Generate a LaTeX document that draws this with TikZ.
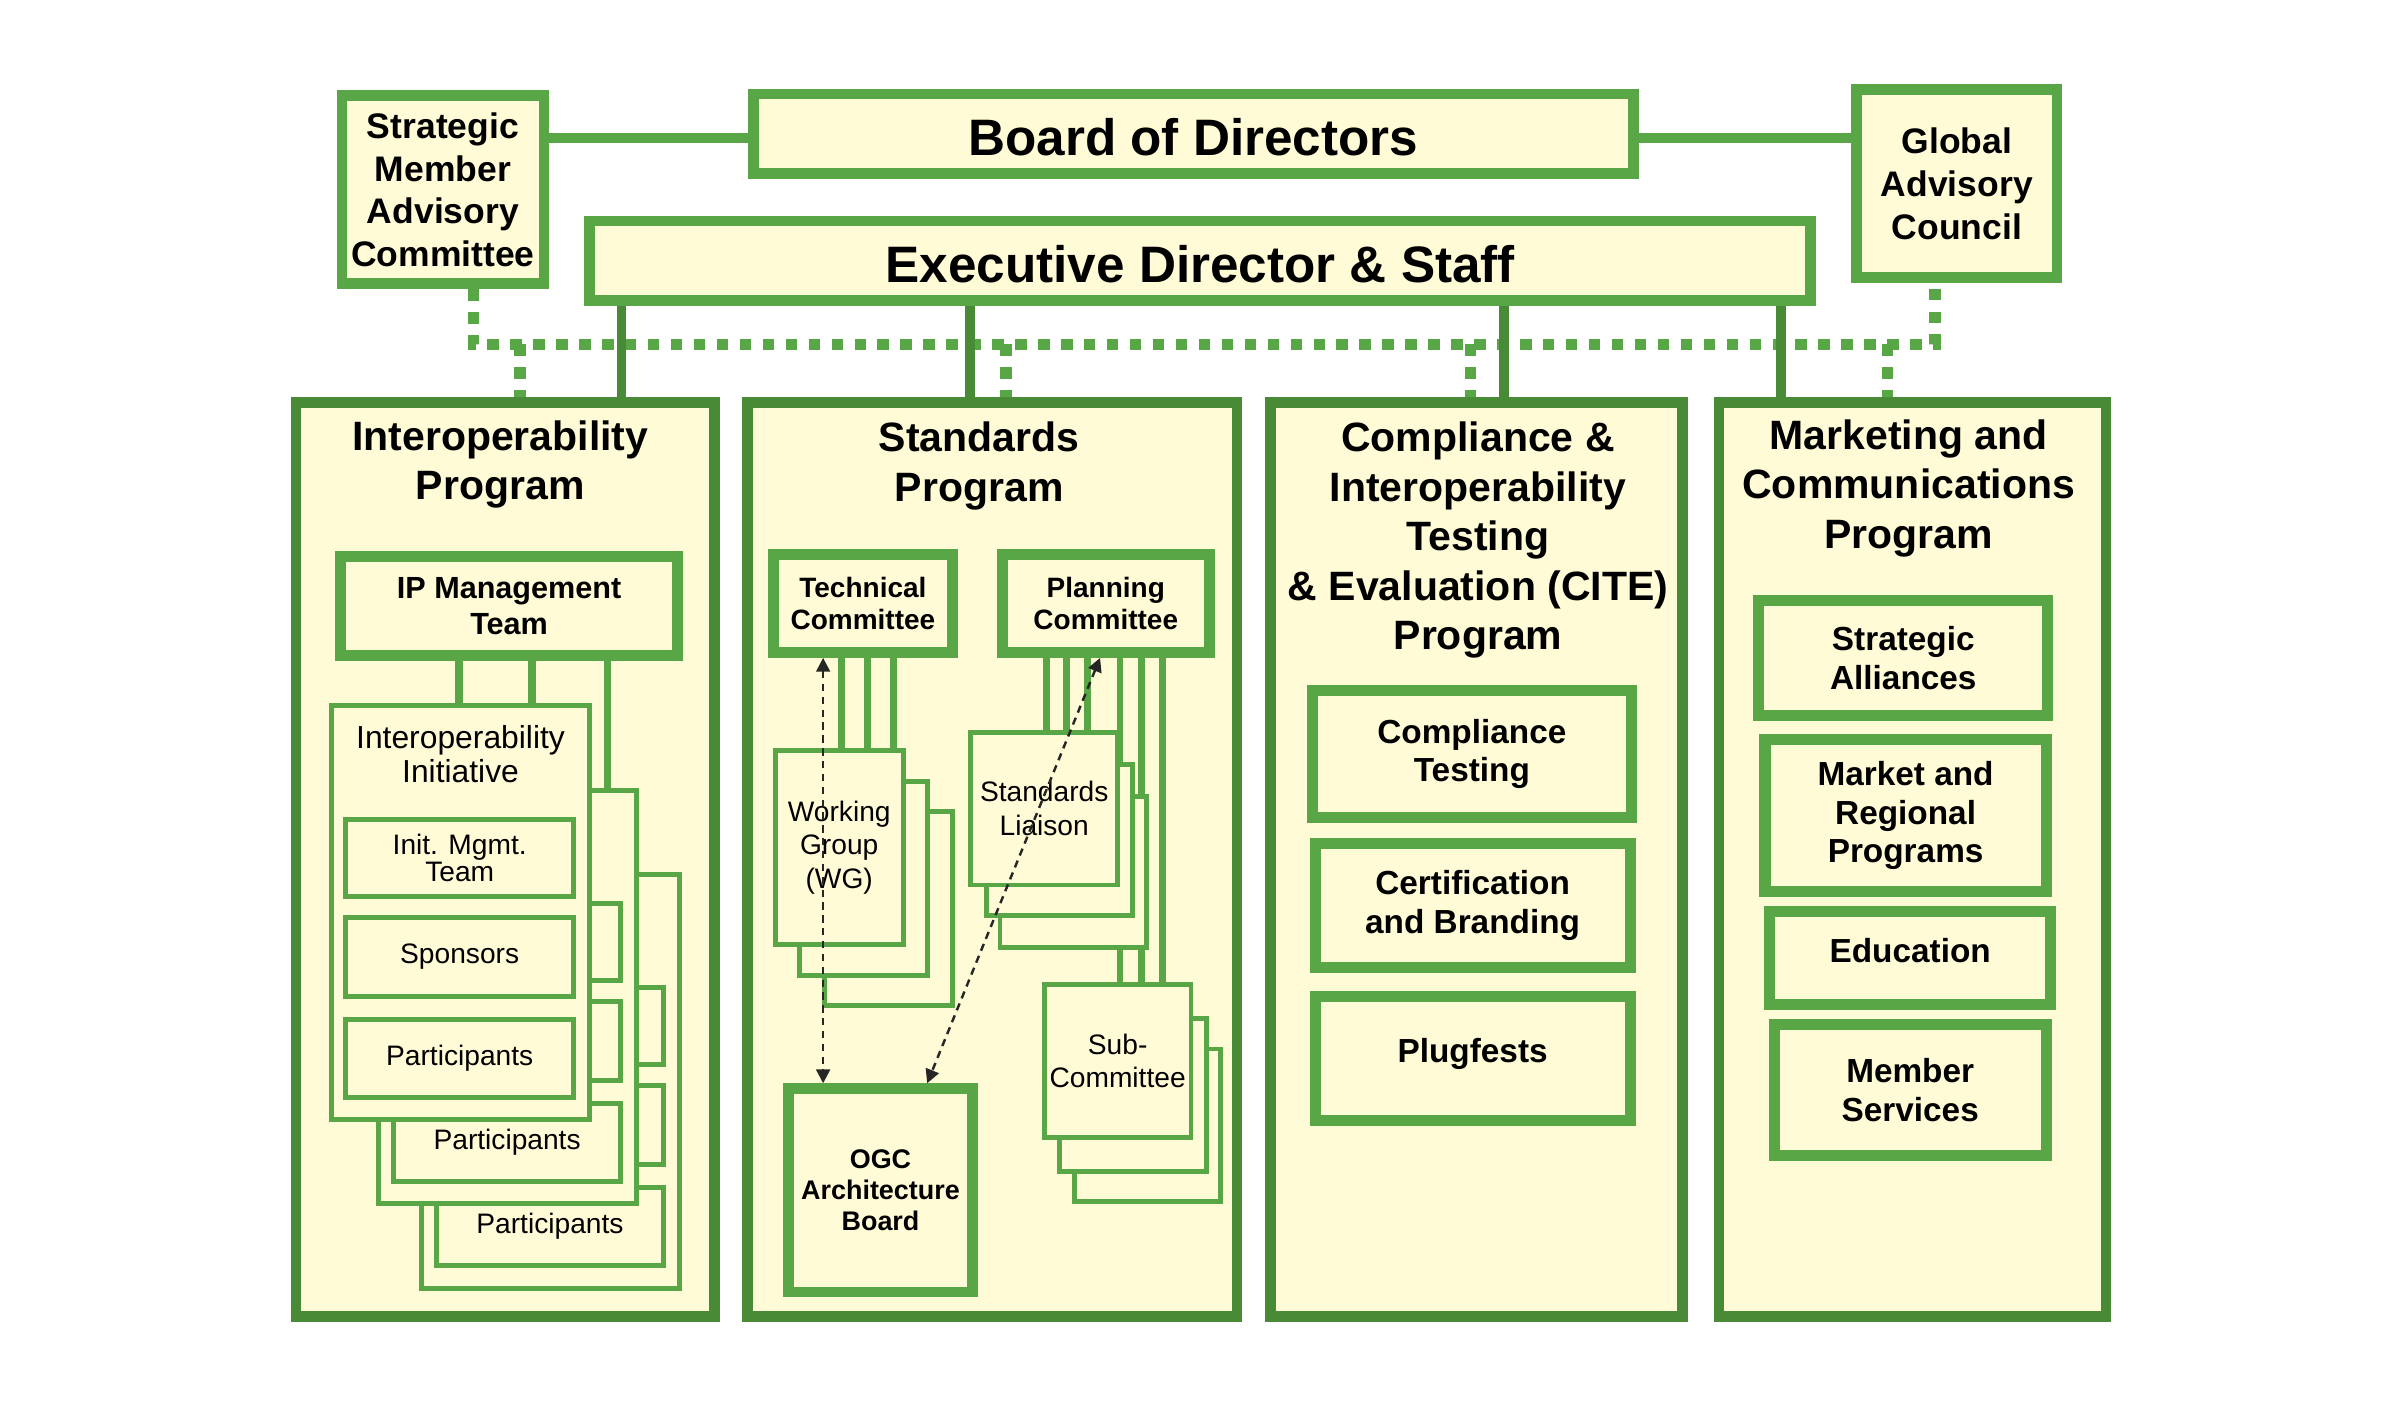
\documentclass[tikz,border=0pt]{standalone}
\usepackage{fontspec}
\setmainfont{Liberation Sans}
\usetikzlibrary{arrows.meta}
\definecolor{gB}{RGB}{88,166,70}
\definecolor{gD}{RGB}{72,138,54}
\definecolor{cream}{RGB}{255,251,214}
% #1 style, #2 line width (units), #3 name, #4 x1, #5 y1, #6 x2, #7 y2 (outer edges), #8 text
\newcommand\mkbx[8]{\node[#1, line width={(#2)*0.5pt}, minimum width={((#6)-(#4)-(#2))*0.5pt}, minimum height={((#7)-(#5)-(#2))*0.5pt}, inner sep=0pt] (#3) at ({((#4)+(#6))/2},{((#5)+(#7))/2}) {#8};}
% initiative layer: #1 prefix, #2 dx, #3 dy, #4 #5 #6 texts
\newcommand\initlayer[6]{%
 \mkbx{thin}{3.3}{#1box}{215+#2}{459.7+#3}{386.7+#2}{733.5+#3}{}
 \mkbx{thin,fReg}{3.3}{#1mgmt}{224.4+#2}{533.7+#3}{376.5+#2}{587.6+#3}{#4}
 \mkbx{thin,fReg}{3.3}{#1spon}{224.4+#2}{598+#3}{376.5+#2}{653+#3}{#5}
 \mkbx{thin,fReg}{3.3}{#1part}{224.4+#2}{664.4+#3}{376.5+#2}{718.7+#3}{#6}}
\tikzset{
 box/.style={draw=gB, fill=cream, align=center},
 prog/.style={draw=gD, fill=cream},
 thin/.style={draw=gB, fill=cream, align=center},
 fBig/.style={font={\fontsize{16.75}{20}\selectfont\bfseries}, text height=14.2pt, text depth=0pt},
 fSide/.style={font={\fontsize{11.6}{14}\selectfont\bfseries}},
 fTitle/.style={font={\fontsize{13.4}{16.2}\selectfont\bfseries}, align=center, inner sep=0pt},
 fSub/.style={font={\fontsize{10.9}{12.7}\selectfont\bfseries}},
 fIPM/.style={font={\fontsize{10}{11.8}\selectfont\bfseries}},
 fTC/.style={font={\fontsize{9.15}{10.6}\selectfont\bfseries}},
 fOGC/.style={font={\fontsize{8.8}{10.2}\selectfont\bfseries}},
 fReg/.style={font={\fontsize{9.2}{11}\selectfont}},
 fInit/.style={font={\fontsize{10.4}{11.2}\selectfont}, align=center, inner sep=0pt},
 hline/.style={draw=gB, line width=3.25pt},
 vline/.style={draw=gD, line width=3pt},
 gl/.style={draw=gB, line width=2.5pt},
 gl2/.style={draw=gB, line width=2.25pt},
 dotl/.style={draw=gB, line width=3.75pt, dash pattern=on 3.75pt off 3.75pt},
 arr/.style={{Triangle[length=4.5pt,width=4.5pt]}-{Triangle[length=4.5pt,width=4.5pt]}, draw=black!85, line width=0.8pt, dash pattern=on 2.4pt off 1.8pt}
}
\begin{document}
\begin{tikzpicture}[x=0.5pt,y=-0.5pt]
\fill[white] (0,0) rectangle (1568,918);
\useasboundingbox (0,0) rectangle (1568,918);
% helper coordinates
\coordinate (hly) at (0,90);
\coordinate (dy) at (0,225);
\coordinate (dA) at (309.5,0);
\coordinate (dB) at (1264.6,0);
\coordinate (d1) at (340,0);
\coordinate (d2) at (657.5,0);
\coordinate (d3) at (961,0);
\coordinate (d4) at (1233.5,0);
\coordinate (e1) at (406,0);
\coordinate (e2) at (634,0);
\coordinate (e3) at (983,0);
\coordinate (e4) at (1164,0);
\coordinate (i1) at (300,0);
\coordinate (i2) at (347.6,0);
\coordinate (i3) at (397,0);
\coordinate (t1) at (550,0);
\coordinate (t2) at (567,0);
\coordinate (t3) at (584,0);
\coordinate (p1) at (684,0);
\coordinate (p2) at (697,0);
\coordinate (p3) at (710.5,0);
\coordinate (p4) at (732,0);
\coordinate (p5) at (746,0);
\coordinate (p6) at (760,0);
\coordinate (av) at (538,0);
\coordinate (ad1) at (719,0);
\coordinate (ad2) at (606,0);

% top level
\mkbx{box,fBig}{7}{board}{489}{58}{1071}{117}{Board of Directors}
\mkbx{box,fBig}{7}{exec}{382}{141}{1187}{200}{Executive Director \& Staff}
\mkbx{box,fSide}{7}{smac}{220}{59}{359}{189}{Strategic\\Member\\Advisory\\Committee}
\mkbx{box,fSide}{7}{gac}{1210}{55}{1348}{185}{Global\\Advisory\\Council}
\draw[hline] (smac.east |- hly) -- (board.west |- hly);
\draw[hline] (board.east |- hly) -- (gac.west |- hly);

% program boxes
\mkbx{prog}{7}{ipp}{190}{259.5}{470.5}{864}{}
\mkbx{prog}{7}{stp}{485}{259.5}{812}{864}{}
\mkbx{prog}{7}{citep}{827}{259.5}{1103}{864}{}
\mkbx{prog}{7}{mktp}{1120}{259.5}{1380}{864}{}

% dotted advisory links
\draw[dotl] (smac.south -| dA) -- (dA |- dy) -- (dB |- dy) -- (gac.south -| dB);
\draw[dotl] (d1 |- dy) -- (ipp.north -| d1);
\draw[dotl] (d2 |- dy) -- (stp.north -| d2);
\draw[dotl] (d3 |- dy) -- (citep.north -| d3);
\draw[dotl] (d4 |- dy) -- (mktp.north -| d4);
% executive links
\draw[vline] (exec.south -| e1) -- (ipp.north -| e1);
\draw[vline] (exec.south -| e2) -- (stp.north -| e2);
\draw[vline] (exec.south -| e3) -- (citep.north -| e3);
\draw[vline] (exec.south -| e4) -- (mktp.north -| e4);

% titles
\node[fTitle, anchor=north] (ipt) at (327,274.5) {Interoperability\\Program};
\node[fTitle, anchor=north] (stt) at (640,275.3) {Standards\\Program};
\node[fTitle, anchor=north] (citet) at (966,275.4) {Compliance \&\\Interoperability\\Testing\\\& Evaluation (CITE)\\Program};
\node[fTitle, anchor=north] (mktt) at (1247.5,273.8) {Marketing and\\Communications\\Program};

% Interoperability program
\mkbx{box,fIPM}{7.2}{ipm}{219}{360.4}{446.5}{432}{IP Management\\Team}
\initlayer{Lc}{59}{110}{}{}{Participants}
\initlayer{Lb}{31}{55}{}{}{Participants}
\initlayer{La}{0}{0}{Init. Mgmt.\\[-2pt]Team}{Sponsors}{Participants}
\node[fInit, anchor=north] (inittitle) at (301,473.5) {Interoperability\\Initiative};
\draw[gl] (ipm.south -| i1) -- (Labox.north -| i1);
\draw[gl] (ipm.south -| i2) -- (Labox.north -| i2);
\draw[gl] (ipm.south -| i3) -- (Lbbox.north -| i3);

% Standards program
\mkbx{box,fTC}{7.2}{tc}{502}{359}{626}{430}{Technical\\Committee}
\mkbx{box,fTC}{7.2}{pc}{651.5}{359}{794}{430}{Planning\\Committee}
\mkbx{box,fOGC}{7}{ogc}{512}{708}{639}{848}{OGC\\Architecture\\Board}
% sub-committees
\mkbx{thin}{3.2}{subc}{700.5}{684}{799.5}{787}{}
\mkbx{thin}{3.2}{subb}{691}{664}{790}{767}{}
\mkbx{thin,fReg}{3.2}{suba}{681}{642}{780}{745}{Sub-\\Committee}
\draw[gl2] (pc.south -| p4) -- (suba.north -| p4);
\draw[gl2] (pc.south -| p5) -- (suba.north -| p5);
\draw[gl2] (pc.south -| p6) -- (suba.north -| p6);
% standards liaison
\mkbx{thin}{3.2}{slc}{652}{519}{751}{621}{}
\mkbx{thin}{3.2}{slb}{643}{498}{742}{600}{}
\mkbx{thin,fReg}{3.2}{sla}{633}{477}{732}{580}{Standards\\Liaison}
\draw[gl2] (pc.south -| p1) -- (sla.north -| p1);
\draw[gl2] (pc.south -| p2) -- (sla.north -| p2);
\draw[gl2] (pc.south -| p3) -- (sla.north -| p3);
% working groups
\mkbx{thin}{3.2}{wgc}{537}{529}{624}{659}{}
\mkbx{thin}{3.2}{wgb}{521}{509}{608}{639}{}
\mkbx{thin,fReg}{3.2}{wga}{505}{489}{592}{619}{Working\\Group\\(WG)}
\draw[gl2] (tc.south -| t1) -- (wga.north -| t1);
\draw[gl2] (tc.south -| t2) -- (wga.north -| t2);
\draw[gl2] (tc.south -| t3) -- (wga.north -| t3);
% dashed relations
\draw[arr] (tc.south -| av) -- (ogc.north -| av);
\draw[arr] (pc.south -| ad1) -- (ogc.north -| ad2);

% CITE program
\mkbx{box,fSub}{7.2}{ct}{854}{448}{1070}{537.6}{Compliance\\Testing}
\mkbx{box,fSub}{7.2}{cb}{856}{548}{1069}{636}{Certification\\and Branding}
\mkbx{box,fSub,text depth=5.3pt}{7.2}{pf}{856}{648}{1069}{736}{Plugfests}

% Marketing program
\mkbx{box,fSub}{7.2}{sa}{1146}{389}{1342}{471}{Strategic\\Alliances}
\mkbx{box,fSub}{7.2}{mrp}{1150}{480}{1341}{586}{Market and\\Regional\\Programs}
\mkbx{box,fSub,text depth=5pt}{7.2}{edu}{1153}{592}{1344}{660}{Education}
\mkbx{box,fSub}{7.2}{ms}{1156}{666}{1341}{759}{Member\\Services}
\end{tikzpicture}
\end{document}
